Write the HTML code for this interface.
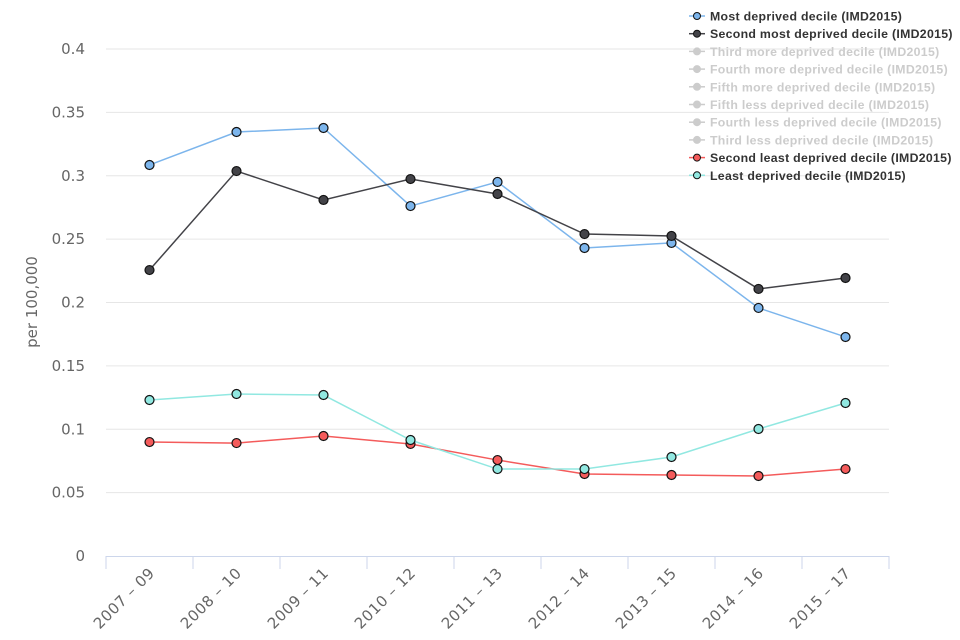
<!DOCTYPE html>
<html><head><meta charset="utf-8"><style>
html,body{margin:0;padding:0;background:#fff;}
svg{display:block;font-family:"DejaVu Sans","Liberation Sans",sans-serif;}
</style></head><body>
<svg id="chart" width="960" height="640" viewBox="0 0 960 640">
<g id="grid"></g>
<g id="yticks"></g>
<text transform="translate(37,302) rotate(-90)" text-anchor="middle" font-size="15" fill="#666">per 100,000</text>
<g id="xaxis"></g>
<g id="series"></g>
<g id="legend"></g>
</svg>
<script>
const categories=["2007 – 09","2008 – 10","2009 – 11","2010 – 12","2011 – 13","2012 – 14","2013 – 15","2014 – 16","2015 – 17"];
const yTicks=[0,0.05,0.1,0.15,0.2,0.25,0.3,0.35,0.4];
const yTickLabels=["0","0.05","0.1","0.15","0.2","0.25","0.3","0.35","0.4"];
const mostDeprived=[0.3085,0.3345,0.3377,0.2761,0.2951,0.243,0.247,0.1957,0.1728];
const secondMostDeprived=[0.2256,0.3037,0.2809,0.2974,0.2856,0.254,0.2525,0.2107,0.2193];
const secondLeastDeprived=[0.0899,0.0891,0.0947,0.0884,0.0757,0.0647,0.0639,0.0631,0.0686];
const leastDeprived=[0.1231,0.1278,0.127,0.0915,0.0686,0.0686,0.0781,0.1002,0.1207];
const legendNames=["Most deprived decile (IMD2015)","Second most deprived decile (IMD2015)","Third more deprived decile (IMD2015)","Fourth more deprived decile (IMD2015)","Fifth more deprived decile (IMD2015)","Fifth less deprived decile (IMD2015)","Fourth less deprived decile (IMD2015)","Third less deprived decile (IMD2015)","Second least deprived decile (IMD2015)","Least deprived decile (IMD2015)"];

const NS="http://www.w3.org/2000/svg";
const X0=106,X1=889,Y0=556,YTOP=49,YMAX=0.4;
const step=(X1-X0)/categories.length;
function xPos(i){return X0+step*(i+0.5);}
function yPos(v){return Y0-(v/YMAX)*(Y0-YTOP);}
function mk(tag,attrs,parent){const e=document.createElementNS(NS,tag);for(const k in attrs)e.setAttribute(k,attrs[k]);parent.appendChild(e);return e;}

const grid=document.getElementById('grid'),yt=document.getElementById('yticks');
yTicks.forEach((v,i)=>{
  if(v>0){const l=mk('line',{x1:X0,x2:X1,y1:yPos(v),y2:yPos(v),stroke:'#e6e6e6','stroke-width':1},grid);
  
  }
  const t=mk('text',{x:85,y:yPos(v)+5,'text-anchor':'end','font-size':15,fill:'#666'},yt);
  t.textContent=yTickLabels[i];
  
  
});
const xa=document.getElementById('xaxis');
const al=mk('line',{x1:X0,x2:X1,y1:Y0+0.5,y2:Y0+0.5,stroke:'#ccd6eb','stroke-width':1},xa);


for(let i=0;i<=categories.length;i++){
  const x=X0+step*i;
  const tk=mk('line',{x1:x,x2:x,y1:Y0,y2:Y0+13,stroke:'#ccd6eb','stroke-width':1},xa);
  
  
}
categories.forEach((c,i)=>{
  const x=xPos(i)+6,y=Y0+18;
  const t=mk('text',{x:x,y:y,'text-anchor':'end','font-size':15,'letter-spacing':'0.5',fill:'#666',transform:`rotate(-45 ${x} ${y})`},xa);
  t.textContent=c;
  
  
});

const seriesG=document.getElementById('series');
const series=[
  {name:'most-deprived',data:mostDeprived,color:'#7cb5ec'},
  {name:'second-most-deprived',data:secondMostDeprived,color:'#434348'},
  {name:'second-least-deprived',data:secondLeastDeprived,color:'#f45b5b'},
  {name:'least-deprived',data:leastDeprived,color:'#91e8e1'}
];
series.forEach(s=>{
  const g=mk('g',{},seriesG);
  
  
  const pts=s.data.map((v,i)=>xPos(i)+','+yPos(v)).join(' ');
  const pl=mk('polyline',{points:pts,fill:'none',stroke:s.color,'stroke-width':1.5},g);
  
  
  s.data.forEach((v,i)=>{
    const c=mk('circle',{cx:xPos(i),cy:yPos(v),r:4.5,fill:s.color,stroke:'#111','stroke-width':1.2},g);
    
    
  });
});

const legendColors=['#7cb5ec','#434348',null,null,null,null,null,null,'#f45b5b','#91e8e1'];
const lg=document.getElementById('legend');
legendNames.forEach((n,i)=>{
  const y=16+i*17.7;
  const g=mk('g',{},lg);
  
  
  const col=legendColors[i];
  mk('line',{x1:689,x2:705,y1:y,y2:y,stroke:col||'#ccc','stroke-width':1.5},g);
  mk('circle',{cx:697,cy:y,r:3.5,fill:col||'#ccc',stroke:col?'#111':'#ccc','stroke-width':1},g);
  const t=mk('text',{x:710,y:y+4.5,'font-size':12.3,'font-weight':'bold','font-family':'"Liberation Sans",sans-serif','letter-spacing':'0.3',fill:col?'#333':'#ccc'},g);
  t.textContent=n;
});
</script>
</body></html>
